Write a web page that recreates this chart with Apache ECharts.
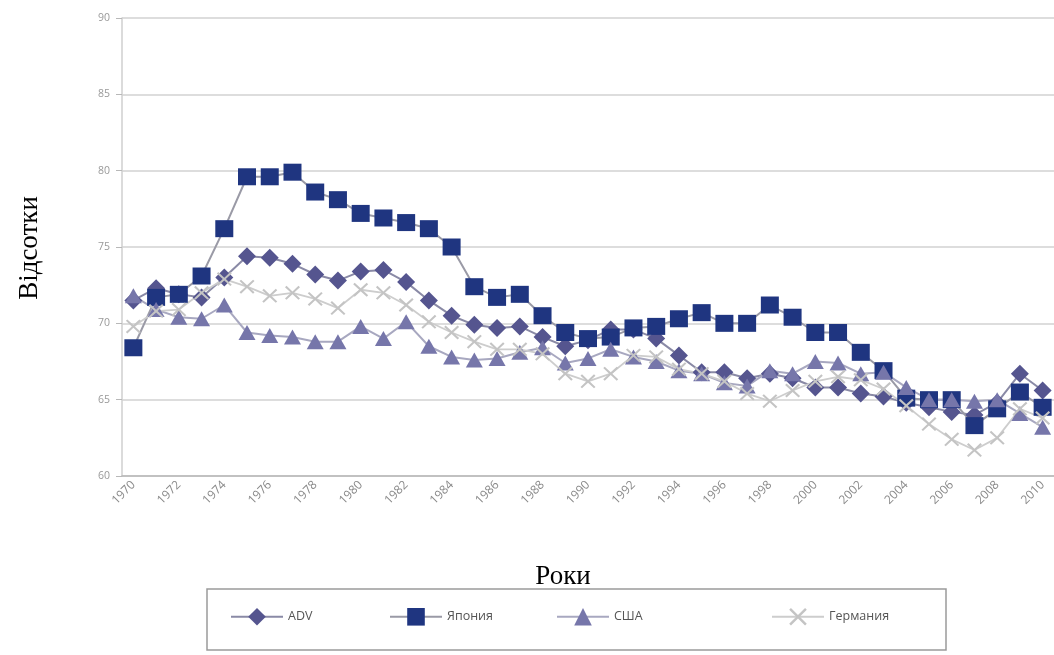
<!DOCTYPE html>
<html>
<head>
<meta charset="utf-8">
<script src="https://cdn.jsdelivr.net/npm/echarts@6/dist/echarts.min.js"></script>
<style>html,body{margin:0;padding:0;background:#fff}#c{width:1054px;height:655px}</style>
</head>
<body>
<div id="c"></div>
<script>
const years = [];
for (let y = 1970; y <= 2010; y++) years.push(String(y));

const seriesNames = ['ADV', 'Япония', 'США', 'Германия'];

const adv = [71.5,72.3,71.9,71.7,73.0,74.4,74.3,73.9,73.2,72.8,73.4,73.5,72.7,71.5,70.5,69.9,69.7,69.8,69.1,68.5,
  68.9,69.6,69.6,69.0,67.9,66.8,66.8,66.4,66.7,66.4,65.8,65.8,65.4,65.2,64.8,64.5,64.2,64.0,64.8,66.7,65.6];
const japan = [68.4,71.7,71.9,73.1,76.2,79.6,79.6,79.9,78.6,78.1,77.2,76.9,76.6,76.2,75.0,72.4,71.7,71.9,70.5,69.4,
  69.0,69.1,69.7,69.8,70.3,70.7,70.0,70.0,71.2,70.4,69.4,69.4,68.1,66.9,65.1,65.0,65.0,63.3,64.4,65.5,64.5];
const usa = [71.8,70.9,70.4,70.3,71.2,69.4,69.2,69.1,68.8,68.8,69.8,69.0,70.1,68.5,67.8,67.6,67.7,68.1,68.4,67.4,
  67.7,68.3,67.8,67.5,66.9,66.7,66.1,65.9,66.9,66.7,67.5,67.4,66.7,66.8,65.8,65.0,65.0,64.9,65.0,64.1,63.2];
const germany = [69.8,70.8,70.9,72.0,72.9,72.4,71.8,72.0,71.6,71.0,72.2,72.0,71.2,70.1,69.4,68.8,68.3,68.3,68.0,66.7,
  66.2,66.7,67.9,67.8,67.0,66.7,66.2,65.4,64.9,65.6,66.2,66.5,66.3,65.7,64.6,63.4,62.4,61.7,62.5,64.4,63.8];

const yTickMin = 60, yTickMax = 90, yTickStep = 5;

const xMark = 'path://M0,1L1,0L5,4L9,0L10,1L6,5L10,9L9,10L5,6L1,10L0,9L4,5Z';

const chart = echarts.init(document.getElementById('c'));
function legendFor(name, left) {
  return {
    data: [name], left: left, top: 608, itemWidth: 52, itemHeight: 22, itemGap: 0,
    textStyle: { fontFamily: 'Open Sans', fontSize: 12.5, color: '#555' }, padding: 0
  };
}
chart.setOption({
  animation: false,
  backgroundColor: '#fff',
  grid: { left: 122, top: 18, right: 0, bottom: 179, containLabel: false },
  legend: [legendFor('ADV', 230), legendFor('Япония', 389), legendFor('США', 556), legendFor('Германия', 771)],
  graphic: [
    { type: 'rect', shape: { x: 207, y: 589, width: 739, height: 61 }, style: { fill: 'none', stroke: '#9a9a9a', lineWidth: 1.5 } },
    { type: 'text', x: 30, y: 248, rotation: Math.PI / 2, style: { text: 'Відсотки', font: '27px "Liberation Serif"', fill: '#000', align: 'center', verticalAlign: 'middle' } },
    { type: 'text', x: 563, y: 577, style: { text: 'Роки', font: '27px "Liberation Serif"', fill: '#000', align: 'center', verticalAlign: 'middle' } }
  ],
  xAxis: {
    type: 'category', data: years, boundaryGap: true,
    axisLine: { lineStyle: { color: '#b8b8b8', width: 1.5 } },
    axisTick: { interval: 0, length: 4, lineStyle: { color: '#b8b8b8' } },
    axisLabel: { interval: 1, rotate: 45, fontSize: 12, color: '#8a8a8a', fontFamily: 'Open Sans', margin: 7 }
  },
  yAxis: {
    type: 'value', min: yTickMin, max: yTickMax, interval: yTickStep,
    axisLine: { show: true, lineStyle: { color: '#cfcfcf', width: 1.5 } },
    axisTick: { show: true, length: 6, lineStyle: { color: '#b8b8b8' } },
    axisLabel: { fontSize: 10.5, color: '#999', fontFamily: 'Open Sans', margin: 12 },
    splitLine: { lineStyle: { color: '#d2d2d2', width: 1.5 } }
  },
  series: [
    { name: 'ADV', type: 'line', data: adv, symbol: 'diamond', symbolSize: [18, 18], showAllSymbol: true,
      itemStyle: { color: '#55558f' }, lineStyle: { color: '#8a8aa6', width: 2 } },
    { name: 'Япония', type: 'line', data: japan, symbol: 'rect', symbolSize: [18, 17], showAllSymbol: true,
      itemStyle: { color: '#1f3580' }, lineStyle: { color: '#9a9aa6', width: 2 } },
    { name: 'США', type: 'line', data: usa, symbol: 'triangle', symbolSize: [17, 15], showAllSymbol: true,
      itemStyle: { color: '#7676aa' }, lineStyle: { color: '#a8a8c0', width: 2 } },
    { name: 'Германия', type: 'line', data: germany, symbol: xMark, symbolSize: [15, 14], showAllSymbol: true,
      itemStyle: { color: '#c4c4c4' }, lineStyle: { color: '#cdcdcd', width: 1.8 } }
  ]
});
</script>
</body>
</html>
